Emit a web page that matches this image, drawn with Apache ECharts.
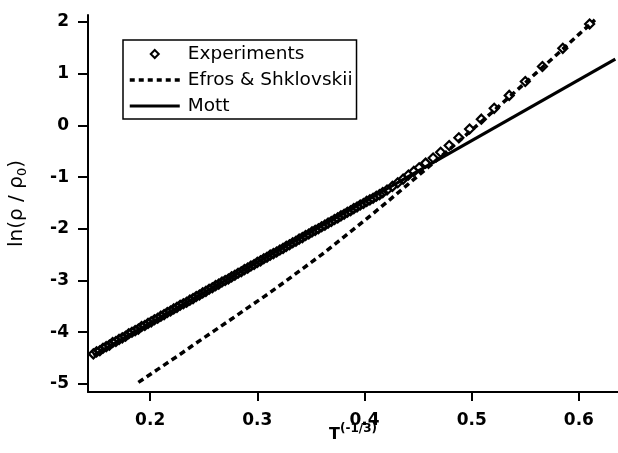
<!DOCTYPE html>
<html><head><meta charset="utf-8">
<script src="https://cdn.jsdelivr.net/npm/echarts@6/dist/echarts.min.js"></script>
<style>html,body{margin:0;padding:0;background:#fff}#c{width:618px;height:453px}</style>
</head><body><div id="c"></div>
<script>
const xTicks = [0.2, 0.3, 0.4, 0.5, 0.6];
const yTicks = [-5, -4, -3, -2, -1, 0, 1, 2];
const seriesNames = ['Experiments', 'Efros & Shklovskii', 'Mott'];

const expX = [0.147,0.150,0.153,0.156,0.159,0.162,0.165,0.168,0.171,0.174,0.177,0.180,0.183,0.186,0.189,0.192,0.195,0.198,0.201,0.204,0.207,0.210,0.213,0.216,0.219,0.222,0.225,0.228,0.231,0.234,0.237,0.240,0.243,0.246,0.249,0.252,0.255,0.258,0.261,0.264,0.267,0.270,0.273,0.276,0.279,0.282,0.285,0.288,0.291,0.294,0.297,0.300,0.303,0.306,0.309,0.312,0.315,0.318,0.321,0.324,0.327,0.330,0.333,0.336,0.339,0.342,0.345,0.348,0.351,0.354,0.357,0.360,0.363,0.366,0.369,0.372,0.375,0.378,0.381,0.384,0.387,0.390,0.393,0.396,0.399,0.402,0.405,0.408,0.411,0.414,0.417,0.421,0.426,0.431,0.436,0.441,0.446,0.451,0.457,0.464,0.471,0.479,0.488,0.498,0.509,0.521,0.535,0.550,0.566,0.585,0.610];
const expY = [-4.42,-4.38,-4.36,-4.31,-4.28,-4.25,-4.20,-4.18,-4.14,-4.11,-4.08,-4.03,-4.00,-3.97,-3.94,-3.89,-3.87,-3.83,-3.80,-3.76,-3.73,-3.69,-3.66,-3.62,-3.59,-3.55,-3.52,-3.48,-3.45,-3.42,-3.38,-3.35,-3.31,-3.28,-3.24,-3.21,-3.17,-3.14,-3.10,-3.07,-3.03,-3.00,-2.97,-2.93,-2.90,-2.86,-2.83,-2.79,-2.76,-2.72,-2.69,-2.65,-2.62,-2.58,-2.55,-2.51,-2.48,-2.45,-2.41,-2.38,-2.34,-2.31,-2.27,-2.24,-2.20,-2.17,-2.13,-2.10,-2.06,-2.03,-2.00,-1.96,-1.93,-1.89,-1.86,-1.82,-1.79,-1.75,-1.72,-1.68,-1.65,-1.61,-1.58,-1.54,-1.51,-1.47,-1.44,-1.41,-1.37,-1.34,-1.30,-1.25,-1.18,-1.11,-1.04,-0.96,-0.89,-0.82,-0.73,-0.63,-0.52,-0.39,-0.24,-0.07,0.12,0.33,0.58,0.85,1.14,1.49,1.96];

const esX = [0.189,0.207,0.225,0.243,0.260,0.277,0.293,0.310,0.326,0.343,0.360,0.380,0.400,0.420,0.440,0.460,0.480,0.500,0.520,0.540,0.560,0.580,0.600,0.615];
const esY = [-4.97,-4.72,-4.47,-4.21,-3.97,-3.73,-3.50,-3.26,-3.02,-2.76,-2.50,-2.17,-1.84,-1.50,-1.15,-0.80,-0.45,-0.09,0.27,0.64,1.01,1.38,1.76,2.04];

const mottX = [0.147, 0.634];
const mottY = [-4.45, 1.28];

const pairs = (xs, ys) => xs.map((x, i) => [x, ys[i]]);
const FONT = 'DejaVu Sans';
const hideDot = {color: 'rgba(0,0,0,0)', borderColor: 'rgba(0,0,0,0)', borderWidth: 0};
const dash = [6, 4];

const chart = echarts.init(document.getElementById('c'), null, {renderer: 'canvas'});
chart.setOption({
  animation: false,
  backgroundColor: '#fff',
  grid: {left: 88, right: 0, top: 15, bottom: 61, containLabel: false, outerBoundsMode: 'none'},
  legend: {
    orient: 'vertical', left: 123, top: 40,
    backgroundColor: '#fff', borderColor: '#000', borderWidth: 1.5, borderRadius: 0,
    padding: [4, 4, 3, 5], itemWidth: 50, itemHeight: 10, itemGap: 6,
    selectedMode: false,
    textStyle: {fontFamily: FONT, fontSize: 18.5, color: '#000', lineHeight: 20, padding: [0, 0, 0, 3]},
    data: [
      {name: seriesNames[0], itemStyle: {color: '#fff', borderColor: '#000', borderWidth: 2}},
      {name: seriesNames[1], itemStyle: hideDot, lineStyle: {color: '#000', width: 3.5, type: [5, 4]}},
      {name: seriesNames[2], itemStyle: hideDot, lineStyle: {color: '#000', width: 3}}
    ]
  },
  xAxis: {
    type: 'value', min: 0.142, max: 0.6365,
    name: '{t|T}{s|(-1/3)}', nameLocation: 'middle', nameGap: 31, nameMoveOverlap: false,
    nameTextStyle: {rich: {
      t: {fontFamily: FONT, fontWeight: 'bold', fontSize: 16, lineHeight: 20, color: '#000', verticalAlign: 'bottom'},
      s: {fontFamily: FONT, fontWeight: 'bold', fontSize: 12, lineHeight: 12, color: '#000', verticalAlign: 'top'}
    }},
    axisLine: {show: true, onZero: false, lineStyle: {color: '#000', width: 2}},
    axisTick: {show: true, customValues: xTicks, length: 9, lineStyle: {color: '#000', width: 2}},
    axisLabel: {customValues: xTicks, formatter: v => v.toFixed(1), margin: 20,
      fontFamily: FONT, fontWeight: 'bold', fontSize: 17, color: '#000'},
    splitLine: {show: false}
  },
  yAxis: {
    type: 'value', min: -5.157, max: 2.135,
    name: '{a|ln(ρ / ρ}{s|0}{a|)}', nameLocation: 'middle', nameGap: 59, nameRotate: 90, nameMoveOverlap: false,
    nameTextStyle: {rich: {
      a: {fontFamily: FONT, fontSize: 20, lineHeight: 24, color: '#000', verticalAlign: 'middle'},
      s: {fontFamily: FONT, fontSize: 13, lineHeight: 13, color: '#000', verticalAlign: 'bottom'}
    }},
    axisLine: {show: true, onZero: false, lineStyle: {color: '#000', width: 2}},
    axisTick: {show: true, customValues: yTicks, length: 10, lineStyle: {color: '#000', width: 2}},
    axisLabel: {customValues: yTicks, formatter: v => String(v), margin: 19,
      fontFamily: FONT, fontWeight: 'bold', fontSize: 17, color: '#000'},
    splitLine: {show: false}
  },
  series: [
    {
      name: seriesNames[0], type: 'line', z: 4,
      symbol: 'diamond', symbolSize: 9, showSymbol: true, showAllSymbol: true,
      lineStyle: {opacity: 0, width: 0},
      itemStyle: {color: 'rgba(255,255,255,0)', borderColor: '#000', borderWidth: 2.2},
      data: pairs(expX, expY)
    },
    {
      name: seriesNames[1], type: 'line', z: 2, symbol: 'none',
      lineStyle: {color: '#000', width: 3.5, type: dash},
      data: pairs(esX, esY)
    },
    {
      name: seriesNames[2], type: 'line', z: 3, symbol: 'none',
      lineStyle: {color: '#000', width: 3.2},
      data: pairs(mottX, mottY)
    }
  ]
});
</script>
</body></html>
